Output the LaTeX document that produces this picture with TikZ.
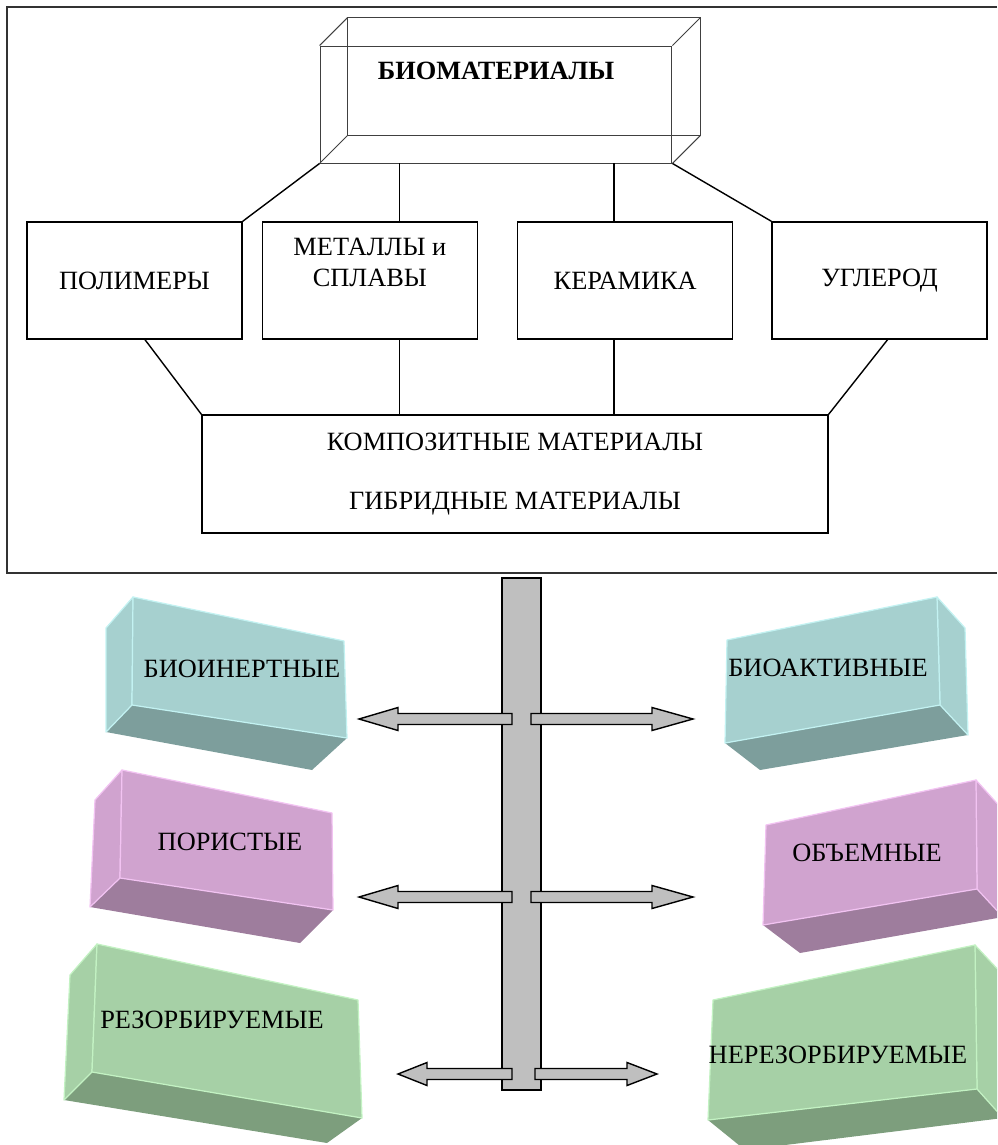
\documentclass[tikz,border=0pt]{standalone}
\usepackage{fontspec}
\setmainfont{Liberation Serif}
\usetikzlibrary{positioning,calc}
\definecolor{bkTeal}{RGB}{166,208,207}
\definecolor{bkTealD}{RGB}{125,158,156}
\definecolor{bkTealL}{RGB}{195,242,242}
\definecolor{bkPink}{RGB}{208,163,207}
\definecolor{bkPinkD}{RGB}{158,125,157}
\definecolor{bkPinkL}{RGB}{242,195,242}
\definecolor{bkGreen}{RGB}{166,208,166}
\definecolor{bkGreenD}{RGB}{125,158,125}
\definecolor{bkGreenL}{RGB}{195,242,195}
\definecolor{frameGray}{RGB}{50,50,50}

\begin{document}
\begin{tikzpicture}[x=0.02cm, y=-0.02cm, font=\fontsize{15}{17.5}\selectfont,
  box/.style={draw, line width=0.8pt, inner sep=2pt, minimum width=4.3cm, minimum height=2.34cm, align=center},
  link/.style={line width=0.8pt},
  wire/.style={draw=black!75, line width=0.55pt},
  face/.style={fill=#1, draw=#1L, line width=0.7pt, line join=round},
  shade/.style={fill=#1D},
  barrow/.style={fill=gray!50, draw=black, line width=0.8pt}]
\clip (0,0) rectangle (997,1145);
% рамка верхней схемы
\draw[frameGray, line width=1.1pt] (997,7) -- (7,7) -- (7,573) -- (997,573);
% объёмный блок (каркас)
\node[wire, minimum width=7.04cm, minimum height=2.34cm, inner sep=0pt,
  label={[anchor=north, yshift=-6pt, font=\fontsize{15}{17.5}\selectfont\bfseries]north:БИОМАТЕРИАЛЫ}] (biomat) at (496,104.5) {};
\draw[wire] ([shift={(28,-28)}]biomat.north west) rectangle ([shift={(28,-28)}]biomat.south east);
\foreach \a in {north west, north east, south west, south east}
  \draw[wire] (biomat.\a) -- ([shift={(28,-28)}]biomat.\a);
% второй уровень
\node[box] (polim) at (134.5,280.5) {ПОЛИМЕРЫ};
\node[box, right=0.38cm of polim, label={[anchor=north, align=center, yshift=-6pt]north:МЕТАЛЛЫ и\\СПЛАВЫ}] (metal) {};
\node[box, right=0.78cm of metal] (keram) {КЕРАМИКА};
\node[box, right=0.76cm of keram] (uglerod) {УГЛЕРОД};
% нижний блок
\node[box, minimum width=12.52cm, minimum height=2.36cm] (komp) at (515,474) {КОМПОЗИТНЫЕ МАТЕРИАЛЫ\\[16.5pt]ГИБРИДНЫЕ МАТЕРИАЛЫ};
% связи
\coordinate (mx) at ([xshift=2.76cm]metal.north west);
\coordinate (kx) at ([xshift=1.94cm]keram.north west);
\draw[link] (biomat.south west) -- (polim.north east);
\draw[link] (biomat.south -| mx) -- (mx);
\draw[link] (biomat.south -| kx) -- (kx);
\draw[link] (biomat.south east) -- (uglerod.north west);
\draw[link] ([xshift=0.21cm]polim.south) -- (komp.north west);
\draw[link] (metal.south -| mx) -- (komp.north -| mx);
\draw[link] (keram.south -| kx) -- (komp.north -| kx);
\draw[link] ([xshift=0.16cm]uglerod.south) -- (komp.north east);
% стержень и стрелки
\node[draw, fill=gray!50, line width=0.8pt, minimum width=0.78cm, minimum height=10.24cm, inner sep=0pt] (stem) at (521.5,834) {};
\foreach \y/\lt/\lh/\rs/\rh/\rt in {719/359/398/531/652/693, 897/359/398/531/652/693, 1074/398/427/535/627/657}{
  \draw[barrow] (512,\y-5.5) -- (\lh,\y-5.5) -- (\lh,\y-11.5) -- (\lt,\y) -- (\lh,\y+11.5) -- (\lh,\y+5.5) -- (512,\y+5.5) -- cycle;
  \draw[barrow] (\rs,\y-5.5) -- (\rh,\y-5.5) -- (\rh,\y-11.5) -- (\rt,\y) -- (\rh,\y+11.5) -- (\rh,\y+5.5) -- (\rs,\y+5.5) -- cycle;
}
% БИОИНЕРТНЫЕ
\fill[shade=bkTeal] (106,732) -- (132,705) -- (347,738) -- (312,770) -- cycle;
\filldraw[face=bkTeal] (106,628) -- (133,597) -- (132,705) -- (106,732) -- cycle;
\filldraw[face=bkTeal] (133,597) -- (344,641) -- (347,738) -- (132,705) -- cycle;
\node (bioinert) at (242,669) {БИОИНЕРТНЫЕ};
% БИОАКТИВНЫЕ
\fill[shade=bkTeal] (725,743) -- (940,705) -- (968,735) -- (760,770) -- cycle;
\filldraw[face=bkTeal] (937,597) -- (965,628) -- (968,735) -- (940,705) -- cycle;
\filldraw[face=bkTeal] (727,640) -- (937,597) -- (940,705) -- (725,743) -- cycle;
\node (bioakt) at (828,668) {БИОАКТИВНЫЕ};
% ПОРИСТЫЕ
\fill[shade=bkPink] (90,907) -- (120,878) -- (333,910) -- (300,943) -- cycle;
\filldraw[face=bkPink] (95,800) -- (122,770) -- (120,878) -- (90,907) -- cycle;
\filldraw[face=bkPink] (122,770) -- (332,813) -- (333,910) -- (120,878) -- cycle;
\node (porist) at (230,842) {ПОРИСТЫЕ};
% ОБЪЕМНЫЕ
\fill[shade=bkPink] (763,925) -- (977,889) -- (1003,917) -- (800,953) -- cycle;
\filldraw[face=bkPink] (976,780) -- (1003,810) -- (1003,917) -- (977,889) -- cycle;
\filldraw[face=bkPink] (766,825) -- (976,780) -- (977,889) -- (763,925) -- cycle;
\node (obem) at (867,853) {ОБЪЕМНЫЕ};
% РЕЗОРБИРУЕМЫЕ
\fill[shade=bkGreen] (64,1100) -- (92,1072) -- (362,1118) -- (327,1143) -- cycle;
\filldraw[face=bkGreen] (70,975) -- (97,944) -- (92,1072) -- (64,1100) -- cycle;
\filldraw[face=bkGreen] (97,944) -- (358,1000) -- (362,1118) -- (92,1072) -- cycle;
\node (rezorb) at (212,1020) {РЕЗОРБИРУЕМЫЕ};
% НЕРЕЗОРБИРУЕМЫЕ
\fill[shade=bkGreen] (708,1120) -- (977,1089) -- (1003,1118) -- (745,1150) -- cycle;
\filldraw[face=bkGreen] (975,945) -- (1003,975) -- (1003,1118) -- (977,1089) -- cycle;
\filldraw[face=bkGreen] (713,1000) -- (975,945) -- (977,1089) -- (708,1120) -- cycle;
\node (nerezorb) at (838,1055) {НЕРЕЗОРБИРУЕМЫЕ};
\end{tikzpicture}
\end{document}
